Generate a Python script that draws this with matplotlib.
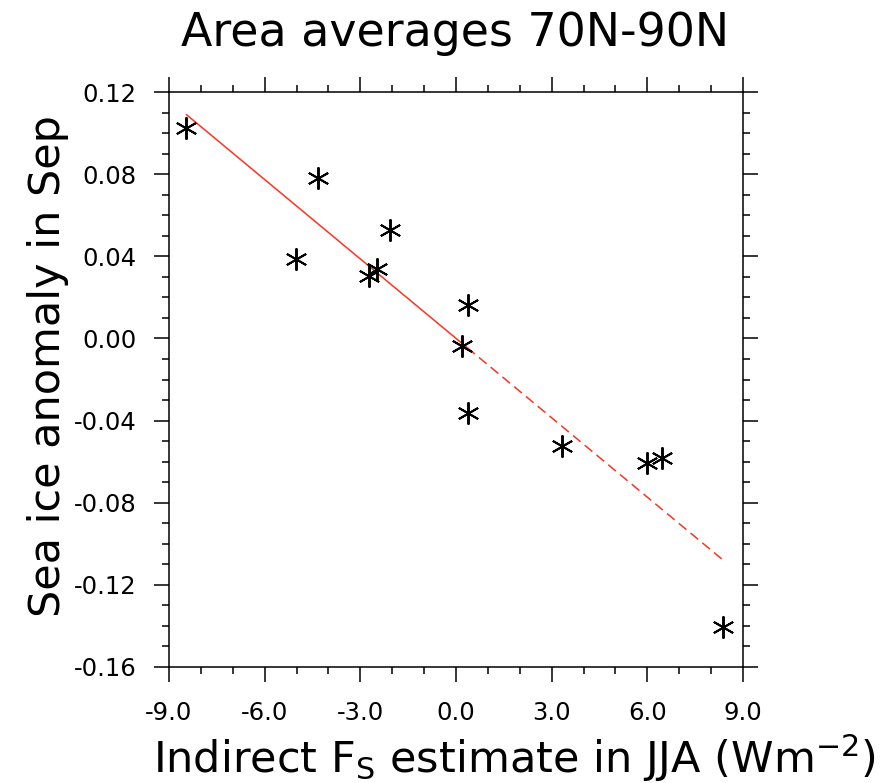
import numpy as np
import matplotlib
matplotlib.use("Agg")
import matplotlib.pyplot as plt
from matplotlib.ticker import MultipleLocator, FormatStrFormatter

# ---- data ----
flux_jja = [-8.47, -5.03, -4.33, -2.73, -2.48, -2.07, 0.18, 0.37, 0.37, 3.32, 5.98, 6.45, 8.37]
ice_sep = [0.1025, 0.0385, 0.078, 0.0305, 0.0338, 0.0528, -0.0037, 0.0165, -0.0364, -0.0522, -0.0605, -0.0580, -0.1405]
fit_break = 0.35  # solid part of fit to the left, dashed to the right

title_text = "Area averages 70N-90N"
xlabel_text = r"Indirect F$_\mathregular{S}$ estimate in JJA (Wm$^{-2}$)"
ylabel_text = "Sea ice anomaly in Sep"

W, H = 892, 783
fig = plt.figure(figsize=(W / 100, H / 100), dpi=100)
ax = fig.add_axes([169 / W, 1 - 667 / H, (743 - 169) / W, (667 - 92) / H])

xs = np.array(flux_jja)
ys = np.array(ice_sep)
slope, icpt = np.polyfit(xs, ys, 1)
xa = np.array([xs.min(), fit_break])
xb = np.array([fit_break, xs.max()])
red = "#ff3322"
ax.plot(xa, slope * xa + icpt, color=red, lw=1.1, solid_capstyle="butt")
ax.plot(xb, slope * xb + icpt, color=red, lw=1.1, dashes=(6.5, 3.5))

ax.plot(xs, ys, linestyle="none", marker=(6, 2, 0), markersize=16,
        markeredgewidth=1.4, color="black")

ax.set_xlim(-9, 9)
ax.set_ylim(-0.16, 0.12)
ax.xaxis.set_major_locator(MultipleLocator(3))
ax.xaxis.set_minor_locator(MultipleLocator(1))
ax.yaxis.set_major_locator(MultipleLocator(0.04))
ax.yaxis.set_minor_locator(MultipleLocator(0.01))
ax.xaxis.set_major_formatter(FormatStrFormatter("%.1f"))
ax.yaxis.set_major_formatter(FormatStrFormatter("%.2f"))

for s in ax.spines.values():
    s.set_linewidth(1.1)
ax.tick_params(which="both", direction="out", top=True, right=True, width=1.1)
ax.tick_params(which="major", length=10.5, labelsize=17.5)
ax.tick_params(which="minor", length=4.8)
ax.tick_params(axis="x", which="major", pad=14)
ax.tick_params(axis="y", which="major", pad=13)

fig.text(455.5 / W, 1 - 46 / H, title_text, ha="center", va="baseline",
         fontsize=33, family="DejaVu Sans")
fig.text(514 / W, 1 - 773 / H, xlabel_text, ha="center", va="baseline",
         fontsize=31, family="DejaVu Sans")
fig.text(60 / W, 1 - 366.5 / H, ylabel_text, ha="center", va="baseline",
         rotation=90, rotation_mode="anchor", fontsize=31, family="DejaVu Sans")

fig.savefig("out.png", dpi=100)
